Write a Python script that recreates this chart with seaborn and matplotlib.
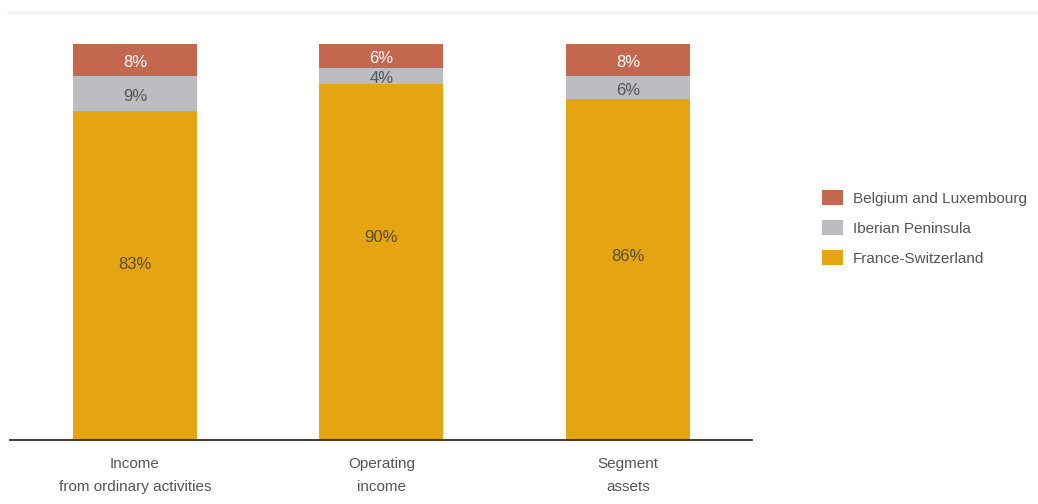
import matplotlib
matplotlib.use("Agg")
import matplotlib.pyplot as plt
from matplotlib.patches import Patch
from matplotlib.lines import Line2D
import seaborn as sns
import pandas as pd

categories = ["Income\nfrom ordinary activities", "Operating\nincome", "Segment\nassets"]
france_switzerland = [83, 90, 86]
iberian_peninsula = [9, 4, 6]
belgium_luxembourg = [8, 6, 8]

series_names = ["France-Switzerland", "Iberian Peninsula", "Belgium and Luxembourg"]
colors = {"France-Switzerland": "#E5A412",
          "Iberian Peninsula": "#BCBDC0",
          "Belgium and Luxembourg": "#C4674F"}
label_colors = {"France-Switzerland": "#5a4c33",
                "Iberian Peninsula": "#555555",
                "Belgium and Luxembourg": "#FFFFFF"}
# the big labels in the reference are not exactly centred in their segment
orange_label_y = [45.0, 51.8, 47.2]

df = pd.DataFrame({"category": categories,
                   "France-Switzerland": france_switzerland,
                   "Iberian Peninsula": iberian_peninsula,
                   "Belgium and Luxembourg": belgium_luxembourg})

# cumulative tops for the layered (stacked) look
cum = df[series_names].cumsum(axis=1)
bottoms = cum - df[series_names]

sns.set_theme(style="white")
plt.rcParams["font.family"] = ["Liberation Sans", "DejaVu Sans"]

fig = plt.figure(figsize=(10.38, 5.04), dpi=100)
ax = fig.add_axes([10 / 1038, 1 - 440 / 504, 742 / 1038, 396 / 504])

# draw tallest first so lower segments sit on top
for name in reversed(series_names):
    sns.barplot(x=df["category"], y=cum[name], color=colors[name],
                width=0.503, ax=ax, saturation=1, linewidth=0)

for name in series_names:
    for i in range(len(categories)):
        if name == "France-Switzerland":
            y = orange_label_y[i]
        else:
            y = bottoms[name][i] + df[name][i] / 2
        ax.annotate(f"{df[name][i]}%", (i, y), xytext=(0, -2.2),
                    textcoords="offset points", ha="center", va="center",
                    fontsize=12, color=label_colors[name])

ax.set_ylim(0, 100)
ax.set_xlim(-0.507, 2.503)
ax.set_xlabel("")
ax.set_ylabel("")
ax.set_yticks([])
for s in ["top", "left", "right"]:
    ax.spines[s].set_visible(False)
ax.spines["bottom"].set_color("#3b2a22")
ax.spines["bottom"].set_linewidth(1.3)
ax.tick_params(axis="x", length=0, pad=12, labelsize=11, colors="#555555")
for lbl in ax.get_xticklabels():
    lbl.set_linespacing(1.85)

handles = [Patch(facecolor=colors[n], edgecolor="none", label=n)
           for n in reversed(series_names)]
leg = fig.legend(handles=handles, loc="upper left",
                 bbox_to_anchor=(822 / 1038, 1 - 190 / 504),
                 frameon=False, fontsize=11, borderpad=0, borderaxespad=0,
                 handlelength=1.37, handleheight=1.15, labelspacing=0.93,
                 handletextpad=0.65)
for t in leg.get_texts():
    t.set_color("#555555")

# faint rule along the top
fig.add_artist(Line2D([8 / 1038, 1], [1 - 12 / 504] * 2, transform=fig.transFigure,
                      color="#f3f3f3", linewidth=2))

fig.savefig("out.png", dpi=100, facecolor="white")
